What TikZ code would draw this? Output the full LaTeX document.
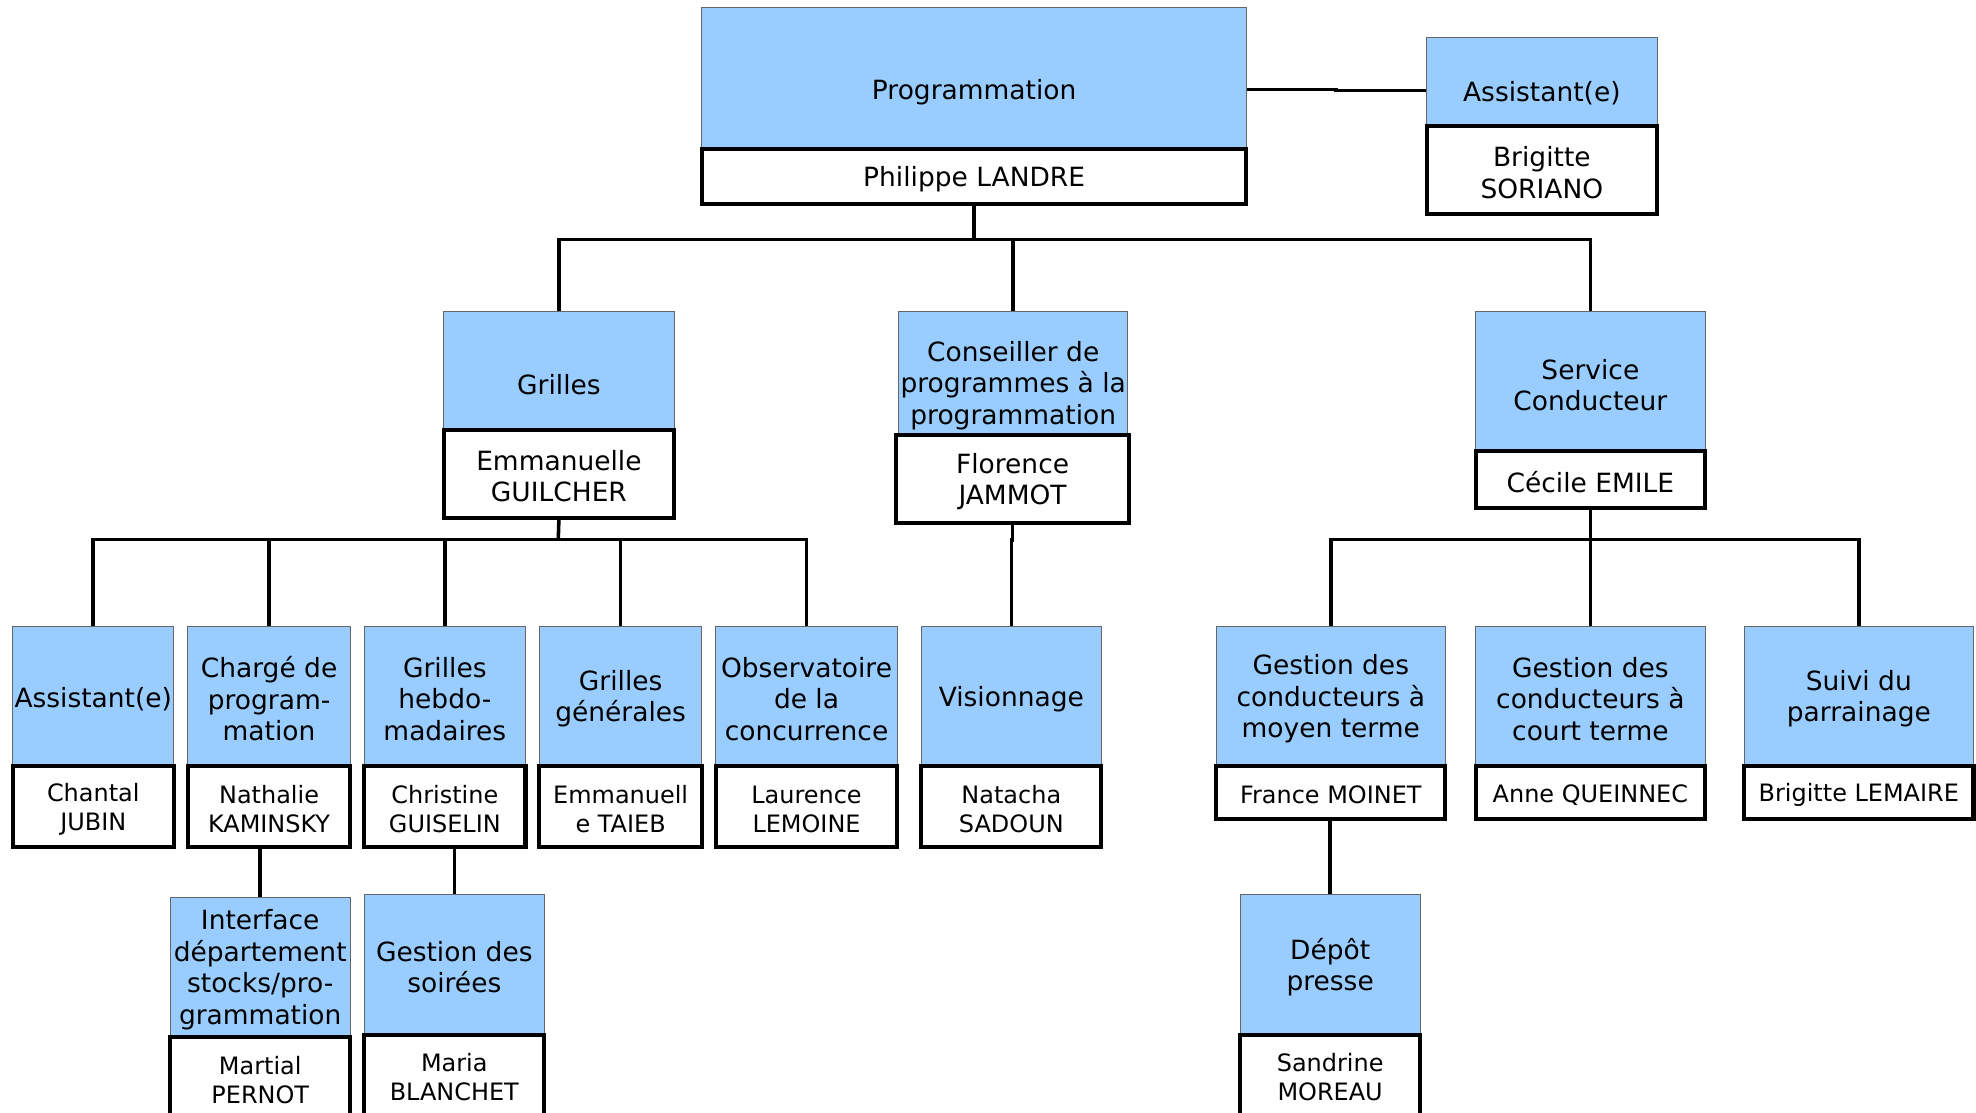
\documentclass[tikz,border=0pt]{standalone}
\usepackage{fontspec}
\setmainfont{DejaVu Sans}
\definecolor{boxblue}{HTML}{99CCFF}
\tikzset{
 unitbox/.style={fill=boxblue, draw=black!60, line width=0.4pt},
 namebig/.style={fill=white, draw=black, line width=1.6pt},
 namesmall/.style={namebig},
 unitboxtxt/.style={align=center, inner sep=0pt, font=\fontsize{10.5}{12.5}\selectfont},
 namebigtxt/.style={align=center, inner sep=0pt, font=\fontsize{10.5}{12.5}\selectfont},
 namesmalltxt/.style={align=center, inner sep=0pt, font=\fontsize{9.5}{11.5}\selectfont},
 link/.style={draw=black, line width=1.4pt}
}
\newcommand\mkbox[7]{%
  \node[#7, inner sep=0pt, minimum width={(#4-#2)*0.5pt}, minimum height={(#5-#3)*0.5pt}] (#1) at ({(#2+#4)/2},{(#3+#5)/2}) {};
  \node[#7txt, yshift=-1pt] (#1-t) at (#1.center) {#6};}
\begin{document}
\begin{tikzpicture}[x=0.5pt,y=-0.5pt]
\fill[white] (0,0) rectangle (1568,883);
\useasboundingbox (0,0) rectangle (1568,883);
\clip (0,0) rectangle (1568,883);

% top level
\mkbox{prog}{557}{6}{989}{136}{Programmation}{unitbox}
\mkbox{progn}{557}{118}{989}{162}{Philippe LANDRE}{namebig}
\mkbox{asst}{1132}{30}{1315}{114}{Assistant(e)}{unitbox}
\mkbox{asstn}{1132}{100}{1315}{170}{Brigitte\\SORIANO}{namebig}

% level 2
\mkbox{gril}{352}{247}{535}{359}{Grilles}{unitbox}
\mkbox{griln}{352}{341}{535}{411}{Emmanuelle\\GUILCHER}{namebig}
\mkbox{cons}{713}{247}{895}{361}{Conseiller de\\programmes à la\\programmation}{unitbox}
\mkbox{consn}{711}{345}{896}{415}{Florence\\JAMMOT}{namebig}
\mkbox{serv}{1171}{247}{1353}{360}{Service\\Conducteur}{unitbox}
\mkbox{servn}{1171}{358}{1353}{403}{Cécile EMILE}{namebig}

% level 3 left
\mkbox{a1}{10}{497}{138}{608}{Assistant(e)}{unitbox}
\mkbox{a1n}{10}{608}{138}{672}{Chantal\\JUBIN}{namesmall}
\mkbox{a2}{149}{497}{278}{608}{Chargé de\\program-\\mation}{unitbox}
\mkbox{a2n}{149}{608}{278}{672}{Nathalie\\KAMINSKY}{namesmall}
\mkbox{a3}{289}{497}{417}{608}{Grilles\\hebdo-\\madaires}{unitbox}
\mkbox{a3n}{289}{608}{417}{672}{Christine\\GUISELIN}{namesmall}
\mkbox{a4}{428}{497}{557}{608}{Grilles\\générales}{unitbox}
\mkbox{a4n}{428}{608}{557}{672}{Emmanuell\\e TAIEB}{namesmall}
\mkbox{a5}{568}{497}{712}{608}{Observatoire\\de la\\concurrence}{unitbox}
\mkbox{a5n}{568}{608}{712}{672}{Laurence\\LEMOINE}{namesmall}

% level 3 middle
\mkbox{vis}{731}{497}{874}{608}{Visionnage}{unitbox}
\mkbox{visn}{731}{608}{874}{672}{Natacha\\SADOUN}{namesmall}

% level 3 right
\mkbox{c1}{965}{497}{1147}{608}{Gestion des\\conducteurs à\\moyen terme}{unitbox}
\mkbox{c1n}{965}{608}{1147}{650}{France MOINET}{namesmall}
\mkbox{c2}{1171}{497}{1353}{608}{Gestion des\\conducteurs à\\court terme}{unitbox}
\mkbox{c2n}{1171}{608}{1353}{650}{Anne QUEINNEC}{namesmall}
\mkbox{c3}{1384}{497}{1566}{608}{Suivi du\\parrainage}{unitbox}
\mkbox{c3n}{1384}{608}{1566}{650}{Brigitte LEMAIRE}{namesmall}

% level 4
\mkbox{d1}{135}{712}{278}{823}{Interface\\département\\stocks/pro-\\grammation}{unitbox}
\mkbox{d1n}{135}{823}{278}{887}{Martial\\PERNOT}{namesmall}
\mkbox{d2}{289}{710}{432}{821}{Gestion des\\soirées}{unitbox}
\mkbox{d2n}{289}{821}{432}{885}{Maria\\BLANCHET}{namesmall}
\mkbox{d3}{984}{710}{1127}{821}{Dépôt\\presse}{unitbox}
\mkbox{d3n}{984}{821}{1127}{885}{Sandrine\\MOREAU}{namesmall}

% connectors
\coordinate (j1) at (1060,71);
\draw[link] (prog.east) -- (j1) |- (asst.west);

\coordinate (bus1) at (773,190);
\draw[link] (progn.south) -- (bus1);
\draw[link] (gril.north) |- (bus1) -| (serv.north);
\draw[link] (cons.north) -- (cons.north |- bus1);

\coordinate (bus2) at (443,428);
\draw[link] (griln.south) -- (bus2);
\draw[link] (a1.north) |- (bus2) -| (a5.north);
\draw[link] (a2.north) -- (a2.north |- bus2);
\draw[link] (a3.north) -- (a3.north |- bus2);
\draw[link] (a4.north) -- (a4.north |- bus2);

\draw[link] (consn.south) -- ++(0,12) -| (vis.north);

\coordinate (bus3) at (1262,428);
\draw[link] (servn.south) -- (bus3);
\draw[link] (c1.north) |- (bus3) -| (c3.north);
\draw[link] (c2.north) -- (c2.north |- bus3);

\draw[link] (d1.north) -- (d1.north |- a2n.south);
\draw[link] (d2.north) -- (d2.north |- a3n.south);
\draw[link] (d3.north) -- (d3.north |- c1n.south);
\end{tikzpicture}
\end{document}
